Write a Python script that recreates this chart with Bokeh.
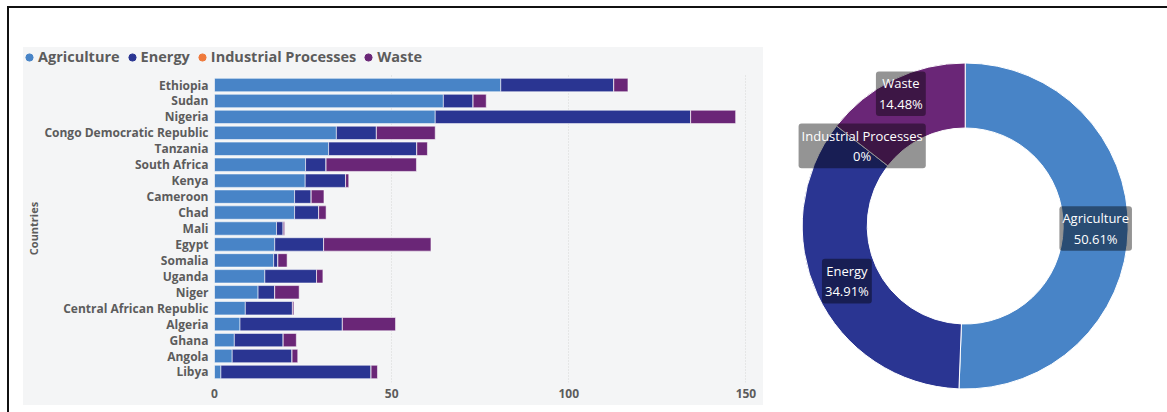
import math

from bokeh.core.properties import value
from bokeh.embed import file_html
from bokeh.layouts import column, row
from bokeh.models import (ColumnDataSource, FactorRange, FixedTicker, Legend,
                          LegendItem, Range1d)
from bokeh.plotting import figure
from bokeh.resources import INLINE

# Emissions by country and sector
countries = ["Ethiopia", "Sudan", "Nigeria", "Congo Democratic Republic", "Tanzania",
             "South Africa", "Kenya", "Cameroon", "Chad", "Mali", "Egypt", "Somalia",
             "Uganda", "Niger", "Central African Republic", "Algeria", "Ghana", "Angola",
             "Libya"]
agriculture = [80.8, 64.6, 62.3, 34.4, 32.2, 25.7, 25.6, 22.6, 22.6, 17.5, 17.0, 16.7,
               14.2, 12.3, 8.7, 7.2, 5.6, 5.0, 1.8]
energy = [31.9, 8.4, 72.1, 11.3, 24.9, 5.8, 11.4, 4.7, 6.8, 1.9, 13.8, 1.2,
          14.6, 4.7, 13.3, 28.9, 13.8, 16.9, 42.4]
industrial = [0, 0, 0, 0, 0, 0, 0, 0, 0, 0, 0, 0, 0, 0, 0, 0, 0, 0, 0]
waste = [4.0, 3.7, 12.7, 16.6, 3.0, 25.5, 0.9, 3.6, 2.1, 0.4, 30.3, 2.6,
         1.8, 6.9, 0.4, 15.0, 3.7, 1.6, 1.8]

sectors = ["Agriculture", "Energy", "Industrial Processes", "Waste"]
share_pct = [50.61, 34.91, 0.0, 14.48]
x_ticks = [0, 50, 100, 150]

colors = ["#4884c7", "#2a3592", "#ef7a3c", "#6a2677"]
text_grey = "#5c5c5c"
panel_grey = "#f4f5f6"
FONT = "Open Sans"

# ---------------- legend strip ----------------
leg = figure(width=740, height=24, output_backend="svg", toolbar_location=None,
             x_range=Range1d(0, 1), y_range=Range1d(0, 1), min_border=0)
leg.axis.visible = False
leg.grid.grid_line_color = None
leg.outline_line_color = None
leg.background_fill_color = panel_grey
leg.border_fill_color = panel_grey

items = []
nan = float("nan")
for name, c in zip(sectors, colors):
    # marker-only renderer (no visible point) that supplies the round legend swatch
    r = leg.scatter(x=[nan], y=[nan], marker="circle", size=9, color=c)
    items.append(LegendItem(label=name, renderers=[r]))
legend = Legend(items=items, orientation="horizontal", location=(-3, 5),
                label_text_font=FONT, label_text_font_style="bold",
                label_text_font_size="14.5px", label_text_color=text_grey,
                glyph_width=18, glyph_height=18, label_standoff=0, spacing=3,
                padding=0, margin=0, border_line_color=None,
                background_fill_alpha=0)
leg.add_layout(legend, "center")

# ---------------- stacked bar chart ----------------
src = ColumnDataSource(dict(country=countries, agriculture=agriculture, energy=energy,
                            industrial=industrial, waste=waste))

bar = figure(width=740, height=334, output_backend="svg", toolbar_location=None,
             y_range=FactorRange(factors=list(reversed(countries)), range_padding=0.017),
             x_range=Range1d(0, 152.7),
             min_border_left=190, min_border_right=8, min_border_top=3,
             min_border_bottom=23)
bar.background_fill_color = panel_grey
bar.border_fill_color = panel_grey
bar.outline_line_color = None

bar.hbar_stack(["agriculture", "energy", "industrial", "waste"], y="country",
               height=0.84, color=colors, source=src,
               line_color="white", line_alpha=0.55, line_width=1)

for ax in (bar.xaxis, bar.yaxis):
    ax.axis_line_color = None
    ax.major_tick_line_color = None
    ax.minor_tick_line_color = None
    ax.major_tick_out = 0
    ax.major_tick_in = 0
    ax.minor_tick_out = 0
    ax.minor_tick_in = 0
    ax.major_label_text_font = FONT
    ax.major_label_text_font_style = "bold"
    ax.major_label_text_color = text_grey
    ax.major_label_standoff = 6

bar.xaxis.ticker = FixedTicker(ticks=x_ticks)
bar.xaxis.major_label_text_font_size = "12px"

bar.yaxis.major_label_text_font_size = "12px"
bar.yaxis.axis_label = "Countries"
bar.yaxis.axis_label_text_font = FONT
bar.yaxis.axis_label_text_font_style = "bold"
bar.yaxis.axis_label_text_font_size = "11px"
bar.yaxis.axis_label_text_color = text_grey
bar.yaxis.axis_label_standoff = 0

bar.ygrid.grid_line_color = None
bar.xgrid.grid_line_color = "#d6d6d6"
bar.xgrid.grid_line_dash = "1 2"
bar.xgrid.ticker = FixedTicker(ticks=x_ticks)

# ---------------- donut chart ----------------
starts, ends, mids = [], [], []
cum = 0.0
for s in share_pct:
    a0 = math.pi / 2 - 2 * math.pi * cum / 100
    a1 = math.pi / 2 - 2 * math.pi * (cum + s) / 100
    starts.append(a0)
    ends.append(a1)
    mids.append((a0 + a1) / 2)
    cum += s

inner_r, outer_r = 98, 163
label_r = (inner_r + outer_r) / 2
# nudge applied to each label so neighbouring boxes do not overlap
nudge_x = [0, 0, 0, -7]
nudge_y = [0, 0, 0, 15]

keep = [i for i, s in enumerate(share_pct) if s > 0]
wedges = ColumnDataSource(dict(start=[starts[i] for i in keep], end=[ends[i] for i in keep],
                               color=[colors[i] for i in keep]))

pie = figure(width=404, height=404, output_backend="svg", toolbar_location=None,
             x_range=Range1d(-201.7, 202.3), y_range=Range1d(-186.5, 217.5),
             min_border=0)
pie.axis.visible = False
pie.grid.grid_line_color = None
pie.outline_line_color = None
pie.background_fill_color = "white"
pie.border_fill_color = "white"

pie.annular_wedge(x=0, y=0, inner_radius=inner_r, outer_radius=outer_r,
                  start_angle="start", end_angle="end", direction="clock",
                  color="color", line_color="white", line_width=1, source=wedges)

lbl = ColumnDataSource(dict(
    x=[label_r * math.cos(m) + dx for m, dx in zip(mids, nudge_x)],
    y=[label_r * math.sin(m) + dy for m, dy in zip(mids, nudge_y)],
    text=[f"{n}\n{s:g}%" for n, s in zip(sectors, share_pct)],
))
pie.text(x="x", y="y", text="text", source=lbl,
         text_align="center", text_baseline="middle",
         text_font=value(FONT), text_font_size="13px", text_color="white",
         text_line_height=1.15,
         background_fill_color="black", background_fill_alpha=0.42,
         padding=3, border_radius=3)

left = column(row(leg), bar, margin=(39, 0, 0, 14), spacing=0,
              styles={"background-color": panel_grey})
layout = row(left, pie, margin=(6, 0, 0, 7),
             styles={"border-top": "2px solid #111", "border-left": "2px solid #111"})

open("out.html", "w").write(file_html(layout, INLINE))
